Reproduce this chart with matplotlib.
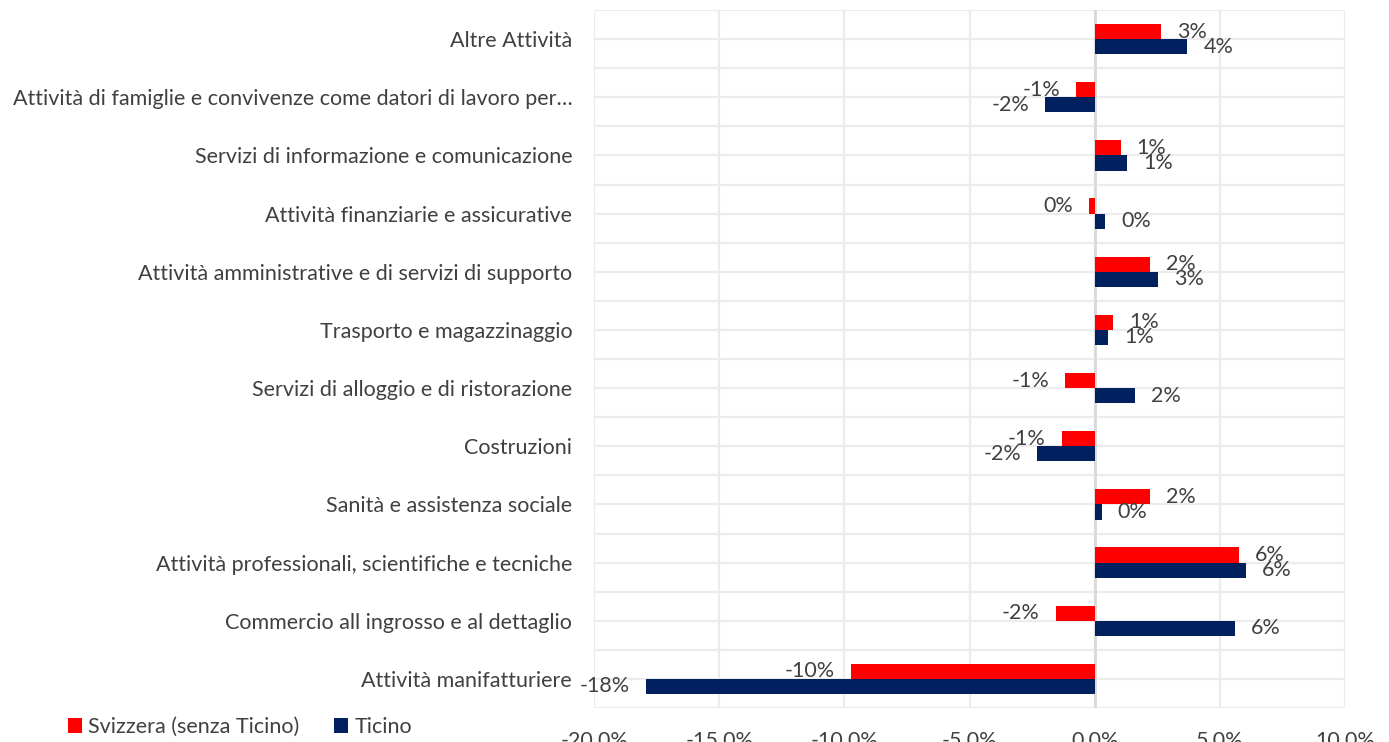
import matplotlib.pyplot as plt
import numpy as np

# categories, top to bottom as in the chart
categories = [
    "Altre Attività",
    "Attività di famiglie e convivenze come datori di lavoro per…",
    "Servizi di informazione e comunicazione",
    "Attività finanziarie e assicurative",
    "Attività amministrative e di servizi di supporto",
    "Trasporto e magazzinaggio",
    "Servizi di alloggio e di ristorazione",
    "Costruzioni",
    "Sanità e assistenza sociale",
    "Attività professionali, scientifiche e tecniche",
    "Commercio all ingrosso e al dettaglio",
    "Attività manifatturiere",
]
svizzera = [2.64, -0.73, 1.04, -0.23, 2.2, 0.74, -1.19, -1.32, 2.22, 5.75, -1.56, -9.73]
ticino = [3.7, -1.98, 1.3, 0.41, 2.55, 0.55, 1.61, -2.29, 0.28, 6.05, 5.6, -17.94]
xticks = [-20, -15, -10, -5, 0, 5, 10]

RED = "#FF0000"
NAVY = "#002060"
TXT = "#404040"
GRID = "#ECECEC"
FS = 15.5

plt.rcParams["font.family"] = ["Lato", "DejaVu Sans"]

fig = plt.figure(figsize=(13.89, 7.42), dpi=100)
ax = fig.add_axes([0.4277, 0.0458, 0.9683 - 0.4277, 0.9865 - 0.0458])

y = np.arange(len(categories))
h = 0.26
ax.barh(y - h / 2, svizzera, height=h, color=RED, label="Svizzera (senza Ticino)", zorder=3)
ax.barh(y + h / 2, ticino, height=h, color=NAVY, label="Ticino", zorder=3)

# data labels
for vals, off in ((svizzera, -h / 2), (ticino, h / 2)):
    for yi, v in zip(y, vals):
        lab = f"{round(v)}%"
        dx = 11.5 if v >= 0 else -11.5
        ax.annotate(lab, (v, yi + off), xytext=(dx, 0), textcoords="offset points",
                    ha="left" if v >= 0 else "right", va="center",
                    fontsize=FS, color=TXT, zorder=4)

ax.set_xlim(-20, 10)
ax.set_ylim(len(categories) - 0.5, -0.5)
ax.set_xticks(xticks)
ax.set_xticklabels([f"{t:.1f}%" for t in xticks])
ax.set_yticks(y)
ax.set_yticklabels(categories)

# gridlines at category borders and centres
for g in np.arange(-0.5, len(categories), 0.5):
    ax.axhline(g, color=GRID, lw=1.6, zorder=1)
for t in xticks:
    ax.axvline(t, color=GRID, lw=1.6, zorder=1)
ax.axvline(0, color="#D9D9D9", lw=2, zorder=2)

for s in ax.spines.values():
    s.set_visible(False)
ax.tick_params(axis="y", length=0, pad=15.8, labelsize=FS, labelcolor=TXT)
ax.tick_params(axis="x", length=0, pad=16.5, labelsize=FS, labelcolor=TXT)

fig.legend(loc="center left", bbox_to_anchor=(0.035, 0.02), ncol=2, frameon=False,
           fontsize=FS, handlelength=0.65, handleheight=0.65, handletextpad=0.3,
           columnspacing=1.6, labelcolor=TXT)

fig.savefig("out.png", dpi=100)
